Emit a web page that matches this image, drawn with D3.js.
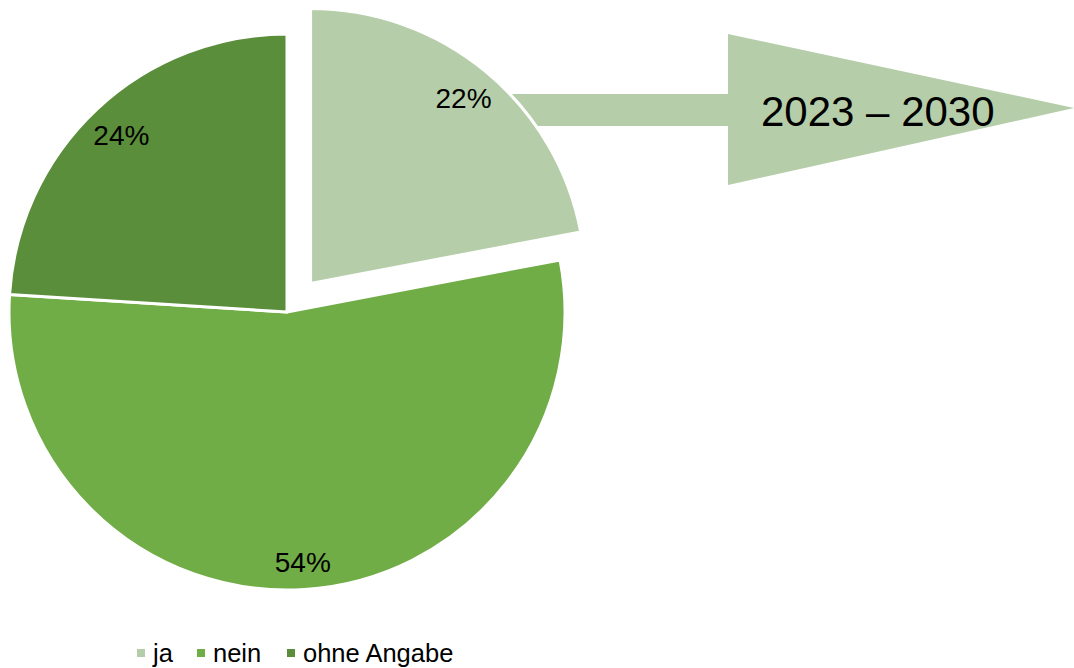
<!DOCTYPE html>
<html>
<head>
<meta charset="utf-8">
<script src="https://cdn.jsdelivr.net/npm/d3@7"></script>
<style>
  body { margin: 0; background: #fff; }
  svg { display: block; font-family: "Liberation Sans", Arial, sans-serif; }
</style>
</head>
<body>
<svg id="chart" width="1074" height="668"></svg>
<script>
// data
var categories = ["ja", "nein", "ohne Angabe"];
var values = [22, 54, 24];
var colors = ["#b5cea9", "#70ad47", "#5a8e3a"];
var arrowLabel = "2023 \u2013 2030";

var svg = d3.select("#chart");
var cx = 287, cy = 312, r = 278;
var explode = 37;
var labelR = [240, 251, 242];
var total = d3.sum(values);

// arrow behind the exploded slice
var arrow = svg.append("g");
arrow.append("rect")
    .attr("x", 480).attr("y", 94)
    .attr("width", 250).attr("height", 32)
    .attr("fill", colors[0]);
arrow.append("path")
    .attr("d", "M728,34 L1074,108 L728,185 Z")
    .attr("fill", colors[0]);
arrow.append("text")
    .attr("x", 761).attr("y", 126)
    .attr("font-size", 42)
    .attr("fill", "#000")
    .text(arrowLabel);

var pie = d3.pie().sort(null).value(function (d) { return d; });
var arcs = pie(values);
var arc = d3.arc().innerRadius(0).outerRadius(function (d) { return d.index === 0 ? r - 3 : r; });

var g = svg.append("g").attr("transform", "translate(" + cx + "," + cy + ")");

function offset(d, i) {
    if (i !== 0) return [0, 0];
    var a = (d.startAngle + d.endAngle) / 2;
    return [Math.sin(a) * explode, -Math.cos(a) * explode];
}

var slices = g.selectAll(".slice")
    .data(arcs)
    .enter().append("g")
    .attr("class", "slice")
    .attr("transform", function (d, i) {
        var o = offset(d, i);
        return "translate(" + o[0] + "," + o[1] + ")";
    });

slices.append("path")
    .attr("d", arc)
    .attr("fill", function (d, i) { return colors[i]; })
    .attr("stroke", "#fff")
    .attr("stroke-width", 3)
    .attr("stroke-linejoin", "round");

slices.append("text")
    .attr("transform", function (d, i) {
        var c = d3.arc().innerRadius(labelR[i]).outerRadius(labelR[i]).centroid(d);
        return "translate(" + c[0] + "," + c[1] + ")";
    })
    .attr("text-anchor", "middle")
    .attr("dy", "0.35em")
    .attr("font-size", 28)
    .attr("fill", "#000")
    .text(function (d) { return Math.round(d.value / total * 100) + "%"; });

// legend
var legendX = [137, 197, 287];
var legend = svg.selectAll(".legend")
    .data(categories)
    .enter().append("g")
    .attr("class", "legend")
    .attr("transform", function (d, i) { return "translate(" + legendX[i] + ",649)"; });

legend.append("rect")
    .attr("width", 8).attr("height", 8)
    .attr("fill", function (d, i) { return colors[i]; });

legend.append("text")
    .attr("x", 16).attr("y", 13)
    .attr("font-size", 25.5)
    .attr("fill", "#000")
    .text(function (d) { return d; });
</script>
</body>
</html>
